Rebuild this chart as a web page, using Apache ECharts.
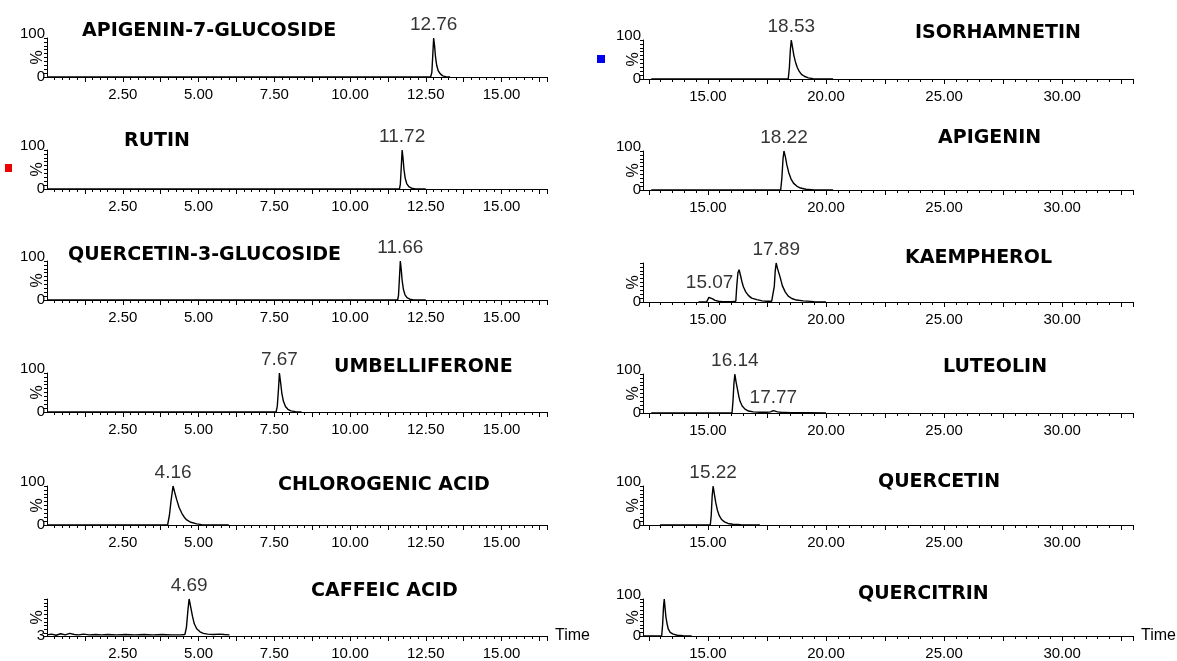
<!DOCTYPE html>
<html>
<head>
<meta charset="utf-8">
<script src="https://cdn.jsdelivr.net/npm/echarts@6/dist/echarts.min.js"></script>
<style>
html,body{margin:0;padding:0;background:#fff;}
#showChart{width:1177px;height:661px;}
</style>
</head>
<body>
<div id="showChart"></div>
<script>
// compound names, top to bottom
var leftNames = ['APIGENIN-7-GLUCOSIDE', 'RUTIN', 'QUERCETIN-3-GLUCOSIDE', 'UMBELLIFERONE', 'CHLOROGENIC ACID', 'CAFFEIC ACID'];
var rightNames = ['ISORHAMNETIN', 'APIGENIN', 'KAEMPHEROL', 'LUTEOLIN', 'QUERCETIN', 'QUERCITRIN'];

// traces: [time (min), relative intensity (%)]
var apigenin7gTrace = [[0,0],[12.66,0],[12.70,12],[12.73,55],[12.76,100],[12.79,80],[12.82,52],[12.86,30],[12.91,16],[12.98,8],[13.06,3],[13.16,1],[13.3,0]];
var rutinTrace = [[0,0],[11.63,0],[11.66,12],[11.69,55],[11.72,100],[11.75,78],[11.78,50],[11.82,28],[11.87,14],[11.94,6],[12.03,2],[12.15,0],[12.5,0]];
var q3gTrace = [[0,0],[11.57,0],[11.60,12],[11.63,55],[11.66,100],[11.69,78],[11.72,50],[11.76,28],[11.81,14],[11.88,6],[11.97,2],[12.1,0],[12.5,0]];
var umbelliferoneTrace = [[0,0],[7.56,0],[7.60,15],[7.64,60],[7.67,100],[7.71,75],[7.75,48],[7.80,28],[7.87,14],[7.95,7],[8.05,3],[8.2,1],[8.4,0]];
var chlorogenicTrace = [[0,0],[3.98,0],[4.04,25],[4.09,60],[4.16,100],[4.22,82],[4.28,65],[4.36,45],[4.45,30],[4.53,20],[4.61,13],[4.75,7],[4.94,3],[5.1,1],[5.3,0],[6.0,0]];
var caffeicTrace = [[0,6],[0.15,8],[0.3,5],[0.45,9],[0.6,6],[0.75,10],[0.9,7],[1.05,6],[1.2,8],[1.4,6],[1.6,7],[1.8,6],[2.0,7],[2.3,6],[2.6,7],[2.9,6],[3.2,7],[3.5,6],[3.8,7],[4.1,6],[4.4,6],[4.55,7],[4.60,25],[4.65,70],[4.69,100],[4.74,80],[4.80,55],[4.86,35],[4.94,22],[5.05,14],[5.16,10],[5.3,8],[5.5,7],[5.7,8],[5.85,7],[6.02,6]];

var isorhamnetinTrace = [[12.6,0],[18.40,0],[18.45,30],[18.49,75],[18.53,100],[18.58,82],[18.64,60],[18.70,45],[18.78,30],[18.86,20],[18.96,12],[19.08,7],[19.25,3],[19.45,1],[19.7,0],[20.3,0]];
var apigeninTrace = [[12.6,0],[18.08,0],[18.13,30],[18.18,80],[18.22,100],[18.28,85],[18.34,65],[18.42,45],[18.52,28],[18.63,17],[18.76,10],[18.92,5],[19.15,2],[19.5,0],[20.3,0]];
var kaempherolTrace = [[14.6,0],[14.95,1],[15.0,5],[15.04,12],[15.07,15],[15.12,12],[15.2,8],[15.3,4],[15.45,2],[15.6,1],[16.0,1],[16.18,2],[16.22,40],[16.27,75],[16.32,83],[16.38,68],[16.44,52],[16.5,39],[16.6,26],[16.71,17],[16.85,10],[17.07,6],[17.3,3],[17.5,2],[17.7,2],[17.78,3],[17.81,40],[17.85,80],[17.89,100],[17.95,85],[18.05,65],[18.15,42],[18.27,26],[18.4,15],[18.55,9],[18.75,5],[19.04,3],[19.5,1],[20.0,0]];
var luteolinTrace = [[12.6,0],[16.02,0],[16.06,30],[16.10,75],[16.14,100],[16.19,80],[16.25,61],[16.31,42],[16.36,30],[16.45,18],[16.57,10],[16.72,5],[16.92,3],[17.2,2],[17.5,2],[17.65,3],[17.72,5],[17.77,6],[17.85,5],[17.95,3],[18.1,2],[18.5,1],[19.2,1],[20.0,0]];
var quercetinTrace = [[12.97,0],[15.1,0],[15.14,25],[15.18,75],[15.22,100],[15.27,80],[15.33,58],[15.40,38],[15.48,24],[15.58,14],[15.70,8],[15.85,4],[16.05,2],[16.4,1],[17.2,0]];
var quercitrinTrace = [[12.26,0],[13.04,0],[13.08,30],[13.12,80],[13.15,100],[13.19,72],[13.22,52],[13.27,33],[13.32,19],[13.4,10],[13.53,5],[13.7,2],[13.95,1],[14.31,0]];

var leftTraces = [apigenin7gTrace, rutinTrace, q3gTrace, umbelliferoneTrace, chlorogenicTrace, caffeicTrace];
var rightTraces = [isorhamnetinTrace, apigeninTrace, kaempherolTrace, luteolinTrace, quercetinTrace, quercitrinTrace];

// labelled retention times
var leftPeaks = [[12.76], [11.72], [11.66], [7.67], [4.16], [4.69]];
var rightPeaks = [[18.53], [18.22], [15.07, 17.89], [16.14, 17.77], [15.22], []];

// axis labels
var leftTickLabels = [2.5, 5, 7.5, 10, 12.5, 15];
var rightTickLabels = [15, 20, 25, 30];
var leftYLabels = [[0,100], [0,100], [0,100], [0,100], [0,100], [3]];
var rightYLabels = [[0,100], [0,100], [0], [0,100], [0,100], [0,100]];
var leftYMin = [0, 0, 0, 0, 0, 3];
var rightYMin = [0, 0, 0, 0, 0, 0];

// layout
var leftBase = [77, 189, 300, 412, 525, 638];
var rightBase = [79, 190, 302, 413, 525, 638];
var plotH = 39;
var leftTitlePos = [[82,30],[124,140],[68,254],[334,366],[278,484],[311,590]];
var rightTitlePos = [[915,32],[938,137],[905,257],[943,366],[878,481],[858,593]];

function steps(a, b, s) {
  var r = [];
  for (var v = a; v <= b + 1e-9; v += s) r.push(Math.round(v * 100) / 100);
  return r;
}

var cols = [
  {left: 47, width: 500, min: 0, max: 16.5, major: steps(1.25, 16.25, 1.25).concat([16.5]), minor: steps(0.25, 16.5, 0.25), labels: leftTickLabels,
   names: leftNames, traces: leftTraces, peaks: leftPeaks, ylabs: leftYLabels, ymin: leftYMin, base: leftBase, tpos: leftTitlePos},
  {left: 643, width: 490, min: 12.25, max: 33, major: steps(12.5, 32.5, 2.5).concat([33]), minor: steps(12.5, 33, 0.5), labels: rightTickLabels,
   names: rightNames, traces: rightTraces, peaks: rightPeaks, ylabs: rightYLabels, ymin: rightYMin, base: rightBase, tpos: rightTitlePos}
];

var txt = {fontFamily: 'Liberation Sans', color: '#000'};
var grids = [], xAxes = [], yAxes = [], series = [], titles = [];

cols.forEach(function (c) {
  for (var r = 0; r < 6; r++) {
    var gi = grids.length;
    var bottomRow = (r === 5);
    grids.push({left: c.left, top: c.base[r] - plotH, width: c.width, height: plotH});

    xAxes.push({
      type: 'value', gridIndex: gi, position: 'bottom', min: c.min, max: c.max,
      axisLine: {show: true, onZero: false, lineStyle: {color: '#000', width: 1}},
      axisTick: {show: true, customValues: c.major, length: 5, lineStyle: {color: '#000'}},
      axisLabel: {show: true, customValues: c.labels, margin: 10, fontSize: 15, fontFamily: txt.fontFamily, color: '#000',
        formatter: function (v) { return v.toFixed(2); }},
      splitLine: {show: false},
      name: bottomRow ? 'Time' : '', nameLocation: 'end', nameGap: 8,
      nameTextStyle: {fontSize: 16, fontFamily: txt.fontFamily, color: '#000'}
    });
    // minor ticks
    xAxes.push({
      type: 'value', gridIndex: gi, position: 'bottom', min: c.min, max: c.max,
      axisLine: {show: false, onZero: false},
      axisTick: {show: true, customValues: c.minor, length: 3, lineStyle: {color: '#000'}},
      axisLabel: {show: false},
      splitLine: {show: false}
    });

    var ymin = c.ymin[r];
    yAxes.push({
      type: 'value', gridIndex: gi, min: ymin, max: 100,
      axisLine: {show: true, onZero: false, lineStyle: {color: '#000', width: 1}},
      axisTick: {show: true, customValues: [ymin].concat(steps(10, 100, 10)), length: 3, lineStyle: {color: '#000'}},
      axisLabel: {show: true, customValues: c.ylabs[r], margin: 2, fontSize: 15, fontFamily: txt.fontFamily, color: '#000',
        formatter: function (v) { return v === 100 ? '{t|100}' : String(v); },
        rich: {t: {padding: [0, 0, 8, 0], fontSize: 15, fontFamily: txt.fontFamily, color: '#000'}}},
      splitLine: {show: false},
      name: '%', nameLocation: 'middle', nameRotate: 90, nameGap: 1, nameMoveOverlap: false,
      nameTextStyle: {fontSize: 16, fontFamily: txt.fontFamily, color: '#000'}
    });

    var tr = c.traces[r];
    series.push({
      type: 'line', xAxisIndex: 2 * gi, yAxisIndex: gi, data: tr,
      showSymbol: false, symbol: 'none', silent: true,
      lineStyle: {color: '#000', width: 1.4}
    });

    var pk = c.peaks[r].map(function (t) {
      for (var k = 0; k < tr.length; k++) if (tr[k][0] === t) return tr[k];
      return [t, 100];
    });
    if (pk.length) {
      series.push({
        type: 'scatter', xAxisIndex: 2 * gi, yAxisIndex: gi, data: pk,
        symbolSize: 1, itemStyle: {color: 'rgba(0,0,0,0)'}, silent: true,
        label: {show: true, position: 'top', distance: 3, fontSize: 19, fontFamily: txt.fontFamily, color: '#000',
          formatter: function (p) { return p.value[0].toFixed(2); }}
      });
    }

    titles.push({
      text: c.names[r], left: c.tpos[r][0], top: c.tpos[r][1] - 8, padding: 0,
      textStyle: {fontFamily: 'DejaVu Sans', fontWeight: 'bold', fontSize: 19, color: '#000'}
    });
  }
});

var myChart = echarts.init(document.getElementById('showChart'));
option = {
  backgroundColor: '#fff',
  animation: false,
  title: titles,
  grid: grids,
  xAxis: xAxes,
  yAxis: yAxes,
  series: series,
  graphic: [
    {type: 'rect', shape: {x: 597, y: 55, width: 8, height: 8}, style: {fill: '#0000ee'}},
    {type: 'rect', shape: {x: 5, y: 164, width: 7, height: 8}, style: {fill: '#ee0000'}}
  ]
};
myChart.setOption(option);
</script>
</body>
</html>
